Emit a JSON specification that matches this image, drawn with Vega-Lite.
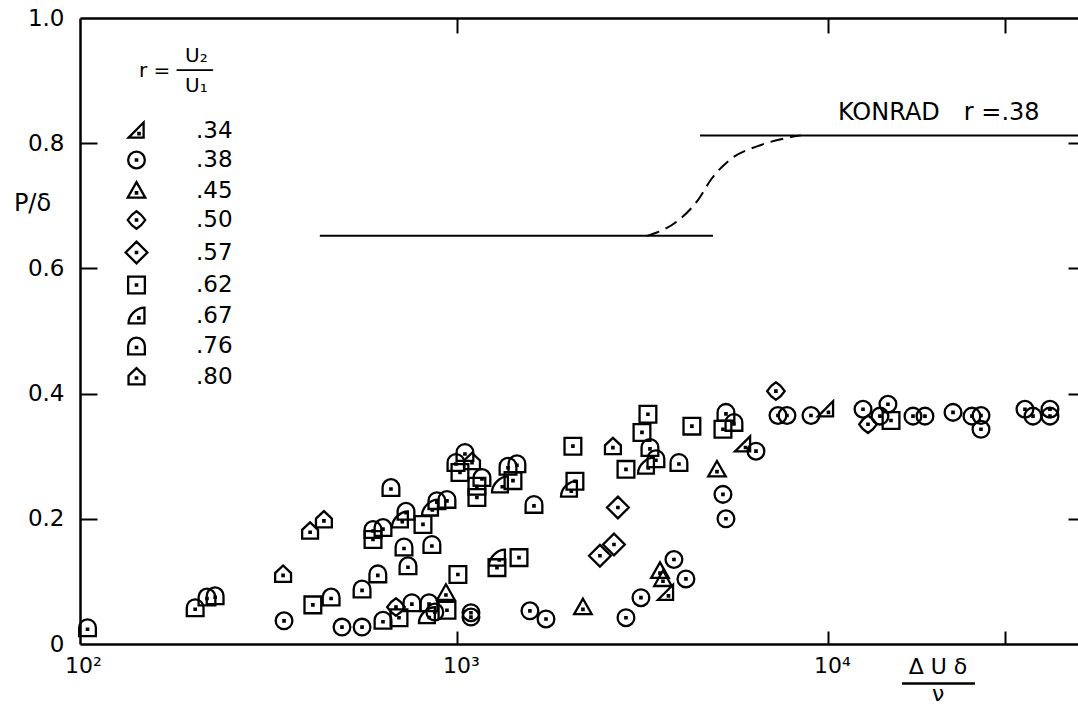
{
  "$schema": "https://vega.github.io/schema/vega-lite/v6.json",
  "width": 998,
  "height": 626,
  "autosize": {"type": "none"},
  "padding": {"left": 80, "top": 18, "right": 0, "bottom": 63},
  "background": "white",
  "config": {
    "font": "DejaVu Sans",
    "view": {"stroke": null},
    "axis": {"grid": false, "domainColor": "black", "tickColor": "black", "labelColor": "black", "titleColor": "black"}
  },
  "datasets": {
    "points": [
      {"r": ".76", "x": 101, "y": 0.026},
      {"r": ".76", "x": 197, "y": 0.058},
      {"r": ".76", "x": 212, "y": 0.075},
      {"r": ".76", "x": 223, "y": 0.077},
      {"r": ".76", "x": 458, "y": 0.075},
      {"r": ".76", "x": 555, "y": 0.088},
      {"r": ".76", "x": 612, "y": 0.112},
      {"r": ".76", "x": 632, "y": 0.038},
      {"r": ".76", "x": 594, "y": 0.183},
      {"r": ".76", "x": 632, "y": 0.186},
      {"r": ".76", "x": 664, "y": 0.25},
      {"r": ".76", "x": 720, "y": 0.155},
      {"r": ".76", "x": 738, "y": 0.125},
      {"r": ".76", "x": 729, "y": 0.212},
      {"r": ".76", "x": 756, "y": 0.066},
      {"r": ".76", "x": 841, "y": 0.066},
      {"r": ".76", "x": 883, "y": 0.229},
      {"r": ".76", "x": 940, "y": 0.231},
      {"r": ".76", "x": 856, "y": 0.159},
      {"r": ".76", "x": 994, "y": 0.29},
      {"r": ".76", "x": 1051, "y": 0.306},
      {"r": ".76", "x": 1168, "y": 0.266},
      {"r": ".76", "x": 1373, "y": 0.284},
      {"r": ".76", "x": 1451, "y": 0.288},
      {"r": ".76", "x": 1613, "y": 0.223},
      {"r": ".76", "x": 3313, "y": 0.314},
      {"r": ".76", "x": 3438, "y": 0.296},
      {"r": ".76", "x": 3966, "y": 0.29},
      {"r": ".76", "x": 5310, "y": 0.37},
      {"r": ".76", "x": 5580, "y": 0.354},
      {"r": ".80", "x": 340, "y": 0.112},
      {"r": ".80", "x": 402, "y": 0.181},
      {"r": ".80", "x": 438, "y": 0.199},
      {"r": ".80", "x": 1098, "y": 0.292},
      {"r": ".80", "x": 2633, "y": 0.316},
      {"r": ".67", "x": 702, "y": 0.199},
      {"r": ".67", "x": 830, "y": 0.046},
      {"r": ".67", "x": 846, "y": 0.218},
      {"r": ".67", "x": 1306, "y": 0.255},
      {"r": ".67", "x": 1282, "y": 0.138},
      {"r": ".67", "x": 2004, "y": 0.248},
      {"r": ".67", "x": 3232, "y": 0.285},
      {"r": ".62", "x": 409, "y": 0.0625},
      {"r": ".62", "x": 594, "y": 0.167},
      {"r": ".62", "x": 698, "y": 0.042},
      {"r": ".62", "x": 810, "y": 0.191},
      {"r": ".62", "x": 940, "y": 0.054},
      {"r": ".62", "x": 1006, "y": 0.111},
      {"r": ".62", "x": 1019, "y": 0.274},
      {"r": ".62", "x": 1132, "y": 0.252},
      {"r": ".62", "x": 1132, "y": 0.234},
      {"r": ".62", "x": 1416, "y": 0.261},
      {"r": ".62", "x": 1282, "y": 0.122},
      {"r": ".62", "x": 1470, "y": 0.138},
      {"r": ".62", "x": 2080, "y": 0.26},
      {"r": ".62", "x": 2054, "y": 0.316},
      {"r": ".62", "x": 2855, "y": 0.279},
      {"r": ".62", "x": 3153, "y": 0.338},
      {"r": ".62", "x": 3272, "y": 0.367},
      {"r": ".62", "x": 4298, "y": 0.348},
      {"r": ".62", "x": 5212, "y": 0.343},
      {"r": ".62", "x": 14790, "y": 0.357},
      {"r": ".45", "x": 934, "y": 0.082},
      {"r": ".45", "x": 2186, "y": 0.059},
      {"r": ".45", "x": 3526, "y": 0.117},
      {"r": ".45", "x": 3592, "y": 0.104},
      {"r": ".45", "x": 5022, "y": 0.279},
      {"r": ".34", "x": 3659, "y": 0.082},
      {"r": ".34", "x": 5902, "y": 0.319},
      {"r": ".34", "x": 9877, "y": 0.375},
      {"r": ".57", "x": 2429, "y": 0.141},
      {"r": ".57", "x": 2650, "y": 0.159},
      {"r": ".57", "x": 2716, "y": 0.218},
      {"r": ".50", "x": 685, "y": 0.059},
      {"r": ".50", "x": 7240, "y": 0.404},
      {"r": ".50", "x": 12820, "y": 0.351},
      {"r": ".38", "x": 342, "y": 0.037},
      {"r": ".38", "x": 490, "y": 0.027},
      {"r": ".38", "x": 555, "y": 0.027},
      {"r": ".38", "x": 872, "y": 0.051},
      {"r": ".38", "x": 1091, "y": 0.05},
      {"r": ".38", "x": 1091, "y": 0.043},
      {"r": ".38", "x": 1573, "y": 0.053},
      {"r": ".38", "x": 1738, "y": 0.04},
      {"r": ".38", "x": 2855, "y": 0.042},
      {"r": ".38", "x": 3133, "y": 0.074},
      {"r": ".38", "x": 3845, "y": 0.135},
      {"r": ".38", "x": 4142, "y": 0.104},
      {"r": ".38", "x": 5212, "y": 0.239},
      {"r": ".38", "x": 5310, "y": 0.2},
      {"r": ".38", "x": 6397, "y": 0.308},
      {"r": ".38", "x": 7333, "y": 0.365},
      {"r": ".38", "x": 7754, "y": 0.365},
      {"r": ".38", "x": 9000, "y": 0.365},
      {"r": ".38", "x": 12430, "y": 0.375},
      {"r": ".38", "x": 13810, "y": 0.364},
      {"r": ".38", "x": 14510, "y": 0.383},
      {"r": ".38", "x": 16950, "y": 0.364},
      {"r": ".38", "x": 18260, "y": 0.364},
      {"r": ".38", "x": 21730, "y": 0.37},
      {"r": ".38", "x": 24440, "y": 0.364},
      {"r": ".38", "x": 25850, "y": 0.365},
      {"r": ".38", "x": 25850, "y": 0.343},
      {"r": ".38", "x": 33960, "y": 0.375},
      {"r": ".38", "x": 35700, "y": 0.364},
      {"r": ".38", "x": 39660, "y": 0.375},
      {"r": ".38", "x": 39660, "y": 0.364}
    ],
    "konrad": [
      {"seg": "low", "x": 427, "y": 0.652},
      {"seg": "low", "x": 4898, "y": 0.652},
      {"seg": "high", "x": 4519, "y": 0.8125},
      {"seg": "high", "x": 47200, "y": 0.8125}
    ],
    "transition": [
      {"x": 3251, "y": 0.652},
      {"x": 3917, "y": 0.675},
      {"x": 4436, "y": 0.707},
      {"x": 4868, "y": 0.744},
      {"x": 5511, "y": 0.776},
      {"x": 6437, "y": 0.795},
      {"x": 7706, "y": 0.808},
      {"x": 8457, "y": 0.8125}
    ],
    "notes": [
      {"x": 10640, "y": 0.848, "label": "KONRAD\u2003r =.38"}
    ],
    "xtitle": [
      {"x": 19800, "y": -0.037, "label": "Δ U δ"},
      {"x": 19800, "y": -0.08, "label": "ν"}
    ],
    "xbar": [
      {"x": 15830, "x2": 24900, "y": -0.063}
    ]
  },
  "layer": [
    {
      "data": {"name": "points"},
      "mark": {"type": "point", "filled": false, "size": 280, "strokeWidth": 2.3, "color": "black", "opacity": 1},
      "encoding": {
        "x": {
          "field": "x", "type": "quantitative",
          "scale": {"type": "log", "domain": [96.4, 47200], "nice": false},
          "axis": {
            "orient": "bottom", "values": [100, 1000, 10000, 30000],
            "labelExpr": "datum.value == 100 ? '10²' : datum.value == 1000 ? '10³' : datum.value == 10000 ? '10⁴' : ''",
            "tickSize": -13, "tickWidth": 2,
            "tickOpacity": {"condition": {"test": "datum.value == 100", "value": 0}, "value": 1},
            "domainWidth": 2.5, "labelFontSize": 22, "labelPadding": 24,
            "labelOffset": {"condition": {"test": "datum.value == 100", "value": -3}, "value": 4},
            "labelFlush": false, "labelOverlap": false, "title": null
          }
        },
        "y": {
          "field": "y", "type": "quantitative",
          "scale": {"domain": [0, 1], "nice": false, "zero": false},
          "axis": {
            "orient": "left", "values": [0, 0.2, 0.4, 0.6, 0.8, 1],
            "labelExpr": "datum.value == 0 ? '0' : format(datum.value, '.1f')",
            "tickSize": -17, "tickWidth": 2,
            "tickOpacity": {"condition": {"test": "datum.value == 0 || datum.value == 1", "value": 0}, "value": 1},
            "domainWidth": 2.5, "labelFontSize": 23, "labelPadding": 33,
            "labelFlush": false, "labelOverlap": false,
            "title": "P/δ", "titleAngle": 0, "titleX": -48, "titleY": 185,
            "titleFontSize": 24, "titleFontWeight": "normal", "titleAlign": "center", "titleBaseline": "middle"
          }
        },
        "shape": {
          "field": "r", "type": "nominal",
          "scale": {
            "domain": [".34", ".38", ".45", ".50", ".57", ".62", ".67", ".76", ".80"],
            "range": [
              "M-0.95,0.85 L0.85,0.85 L0.85,-0.95 Z M0.22,0.3 h0.16 v0.16 h-0.16 Z",
              "M1,0 A1,1 0 1 1 -1,0 A1,1 0 1 1 1,0 Z M-0.08,-0.08 h0.16 v0.16 h-0.16 Z",
              "M0,-1 L1.05,0.85 L-1.05,0.85 Z M-0.08,0.2 h0.16 v0.16 h-0.16 Z",
              "M0,-1.05 Q0.65,-0.65 1.05,0 Q0.65,0.65 0,1.05 Q-0.65,0.65 -1.05,0 Q-0.65,-0.65 0,-1.05 Z M-0.08,-0.08 h0.16 v0.16 h-0.16 Z",
              "M0,-1.3 L1.3,0 L0,1.3 L-1.3,0 Z M-0.08,-0.08 h0.16 v0.16 h-0.16 Z",
              "M-1,-1 L1,-1 L1,1 L-1,1 Z M-0.08,-0.08 h0.16 v0.16 h-0.16 Z",
              "M-0.95,0.95 L0.95,0.95 L0.95,-0.95 C0.1,-0.95 -0.95,-0.1 -0.95,0.95 Z M0.2,0.2 h0.16 v0.16 h-0.16 Z",
              "M-1,1 L-1,0 A1,1 0 0 1 1,0 L1,1 Z M-0.08,0.1 h0.16 v0.16 h-0.16 Z",
              "M-0.95,0.95 L-0.95,-0.1 L0,-1 L0.95,-0.1 L0.95,0.95 Z M-0.08,0.1 h0.16 v0.16 h-0.16 Z"
            ]
          },
          "legend": {
            "orient": "none", "legendX": 45, "legendY": 28, "padding": 0,
            "title": ["\u200b\u2003\u2003\u2003U₂", "\u200b\u2002\u2009r = ───", "\u200b\u2003\u2003\u2003U₁"],
            "titleFontSize": 20, "titleFontWeight": "normal", "titleLineHeight": 15, "titlePadding": 23,
            "labelFontSize": 23, "labelOffset": 48, "symbolSize": 280, "symbolStrokeWidth": 2.3,
            "symbolStrokeColor": "black", "symbolFillColor": "transparent", "rowPadding": 3.5
          }
        }
      }
    },
    {
      "data": {"name": "konrad"},
      "mark": {"type": "line", "color": "black", "strokeWidth": 2},
      "encoding": {
        "x": {
          "field": "x", "type": "quantitative",
          "scale": {"type": "log", "domain": [96.4, 47200], "nice": false},
          "axis": {"orient": "top", "values": [1000, 10000, 30000], "labels": false, "tickSize": -15, "tickWidth": 2, "domainWidth": 2.5, "title": null}
        },
        "y": {
          "field": "y", "type": "quantitative",
          "scale": {"domain": [0, 1], "nice": false, "zero": false},
          "axis": {"orient": "right", "values": [0.2, 0.4, 0.6, 0.8], "labels": false, "domain": false, "tickSize": -10, "tickWidth": 2, "title": null}
        },
        "detail": {"field": "seg", "type": "nominal"}
      }
    },
    {
      "data": {"name": "transition"},
      "mark": {"type": "line", "color": "black", "strokeWidth": 2, "strokeDash": [13, 7], "interpolate": "monotone"},
      "encoding": {
        "x": {"field": "x", "type": "quantitative", "axis": null},
        "y": {"field": "y", "type": "quantitative", "axis": null}
      }
    },
    {
      "data": {"name": "notes"},
      "mark": {"type": "text", "align": "left", "baseline": "middle", "fontSize": 24, "color": "black"},
      "encoding": {
        "x": {"field": "x", "type": "quantitative", "axis": null},
        "y": {"field": "y", "type": "quantitative", "axis": null},
        "text": {"field": "label"}
      }
    },
    {
      "data": {"name": "xtitle"},
      "mark": {"type": "text", "align": "center", "baseline": "middle", "fontSize": 22, "color": "black"},
      "encoding": {
        "x": {"field": "x", "type": "quantitative", "axis": null},
        "y": {"field": "y", "type": "quantitative", "axis": null},
        "text": {"field": "label"}
      }
    },
    {
      "data": {"name": "xbar"},
      "mark": {"type": "rule", "color": "black", "strokeWidth": 2.5},
      "encoding": {
        "x": {"field": "x", "type": "quantitative", "axis": null},
        "x2": {"field": "x2"},
        "y": {"field": "y", "type": "quantitative", "axis": null}
      }
    }
  ],
  "resolve": {"axis": {"x": "independent", "y": "independent"}}
}
